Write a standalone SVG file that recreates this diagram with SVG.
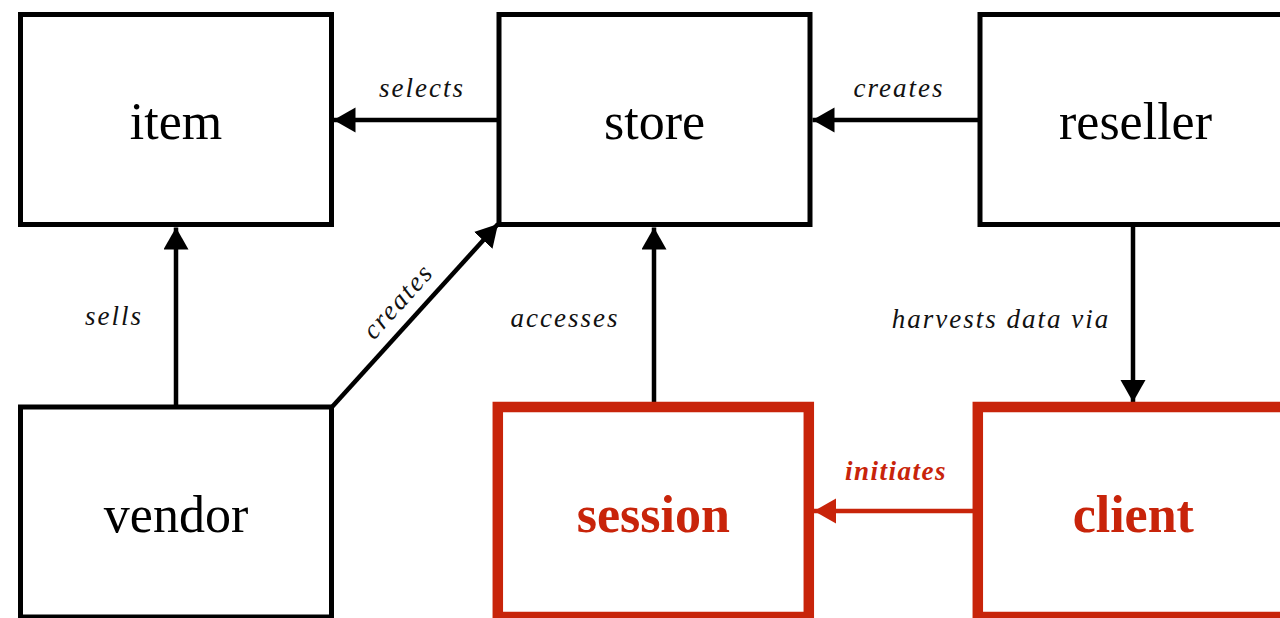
<svg xmlns="http://www.w3.org/2000/svg" width="1280" height="618" viewBox="0 0 1280 618">
<style>
.box{fill:#ffffff;stroke:#000000;stroke-width:5}
.rbox{fill:#ffffff;stroke:#c8240a;stroke-width:10.5}
.nt{font-family:"Liberation Serif","Times New Roman",serif;font-size:52px;text-anchor:middle;fill:#000000}
.rnt{font-family:"Liberation Serif","Times New Roman",serif;font-size:52px;font-weight:bold;text-anchor:middle;fill:#c8240a}
.lbl{font-family:"Liberation Serif","Times New Roman",serif;font-size:27px;font-style:italic;letter-spacing:2px;text-anchor:middle;fill:#111111}
.rlbl{font-family:"Liberation Serif","Times New Roman",serif;font-size:27px;font-style:italic;font-weight:bold;letter-spacing:1.5px;text-anchor:middle;fill:#c8240a}
.edge{stroke:#000000;stroke-width:4.5;fill:none;marker-end:url(#ah)}
.redge{stroke:#c8240a;stroke-width:4.5;fill:none;marker-end:url(#rah)}
</style>
<defs>
<marker id="ah" markerUnits="userSpaceOnUse" markerWidth="24" markerHeight="26" refX="22" refY="12.5" orient="auto" viewBox="0 0 24 26">
<path d="M0,0 L22,12.5 L0,25 z" fill="#000000"/>
</marker>
<marker id="rah" markerUnits="userSpaceOnUse" markerWidth="24" markerHeight="26" refX="22" refY="12.5" orient="auto" viewBox="0 0 24 26">
<path d="M0,0 L22,12.5 L0,25 z" fill="#c8240a"/>
</marker>
</defs>
<rect width="1280" height="618" fill="#ffffff"/>
<g id="connectors">
<line class="edge" x1="499" y1="120" x2="333.5" y2="120"/>
<line class="edge" x1="980" y1="120" x2="812.5" y2="120"/>
<line class="edge" x1="176" y1="407" x2="176" y2="227.5"/>
<line class="edge" x1="332" y1="407" x2="498" y2="224"/>
<line class="edge" x1="654" y1="402" x2="654" y2="227.5"/>
<line class="edge" x1="1133" y1="227" x2="1133" y2="402"/>
<line class="redge" x1="973" y1="511" x2="814" y2="511"/>
<text class="lbl" x="422" y="97">selects</text>
<text class="lbl" x="899" y="97">creates</text>
<text class="lbl" x="114" y="325">sells</text>
<text class="lbl" x="0" y="6" transform="translate(400,303) rotate(-47.8)">creates</text>
<text class="lbl" x="565" y="327">accesses</text>
<text class="lbl" x="1001" y="328">harvests data via</text>
<text class="rlbl" x="896" y="480">initiates</text>
</g>
<g id="item">
<rect class="box" x="20.5" y="14.5" width="311" height="210"/>
<text class="nt" x="176" y="139">item</text>
</g>
<g id="store">
<rect class="box" x="499" y="14.5" width="311" height="210"/>
<text class="nt" x="654.5" y="139">store</text>
</g>
<g id="reseller">
<rect class="box" x="980" y="14.5" width="311" height="210"/>
<text class="nt" x="1135.5" y="139">reseller</text>
</g>
<g id="vendor">
<rect class="box" x="20.5" y="407" width="311" height="210"/>
<text class="nt" x="176" y="532">vendor</text>
</g>
<g id="session">
<rect class="rbox" x="497.8" y="407" width="311" height="210"/>
<text class="rnt" x="653.3" y="532">session</text>
</g>
<g id="client">
<rect class="rbox" x="977.8" y="407" width="311" height="210"/>
<text class="rnt" x="1133.3" y="532">client</text>
</g>
</svg>
